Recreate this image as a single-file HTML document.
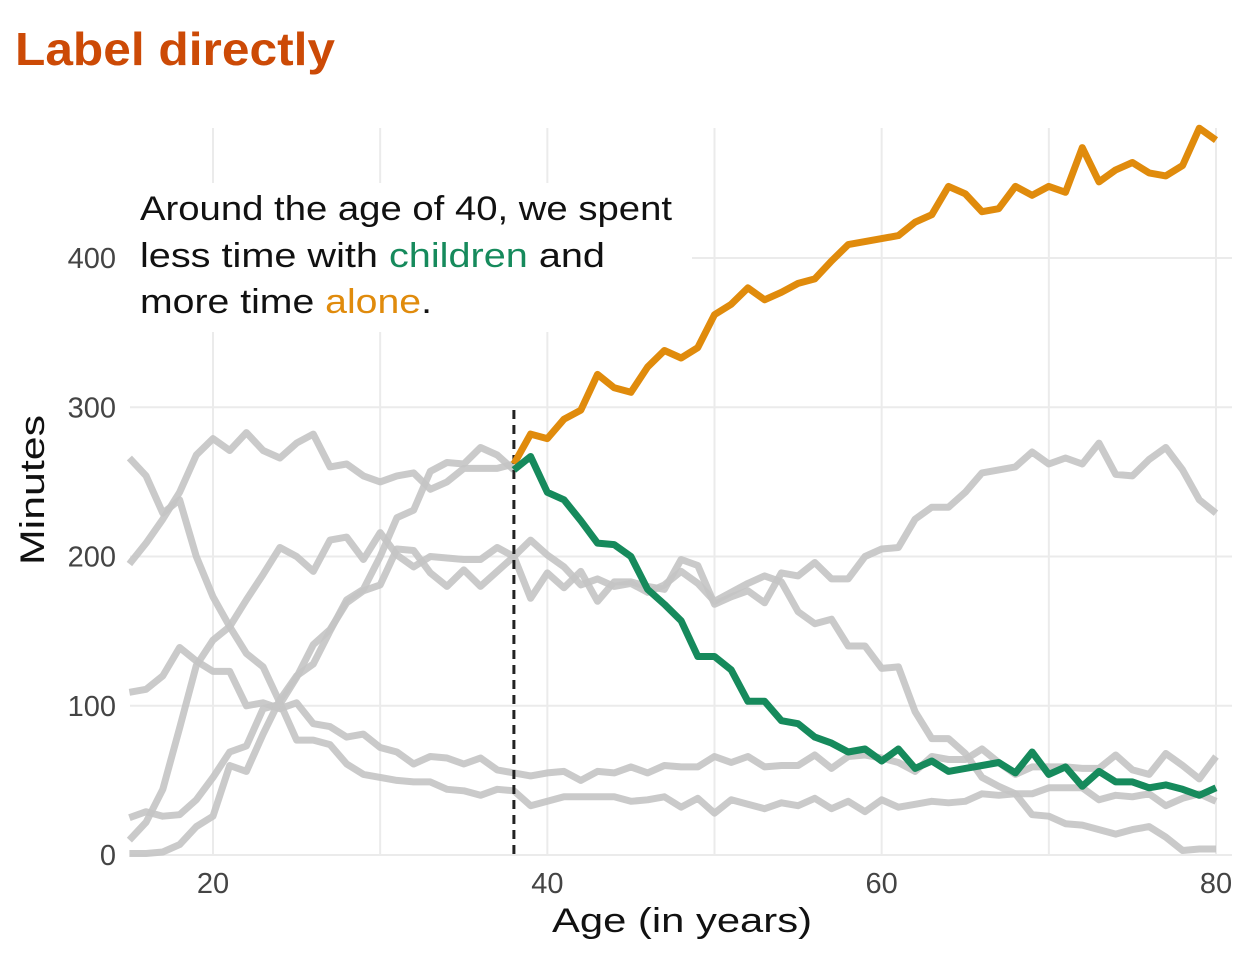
<!DOCTYPE html>
<html><head><meta charset="utf-8"><style>
html,body{margin:0;padding:0;background:#fff;}
svg{display:block;font-family:"Liberation Sans",sans-serif;}
</style></head><body>
<svg id="chart" width="1248" height="960" viewBox="0 0 1248 960">
<text x="15" y="65" font-size="46" font-weight="bold" fill="#cc4a06" textLength="320" lengthAdjust="spacingAndGlyphs">Label directly</text>
<g id="grid"></g>
<g id="yaxis"></g>
<g id="xaxis"></g>
<rect x="130" y="183" width="562" height="149" fill="#fff"/>
<g id="lines"></g>
<g font-size="34" fill="#111">
<text x="140" y="220" textLength="532" lengthAdjust="spacingAndGlyphs">Around the age of 40, we spent</text>
<text x="140" y="267" textLength="465" lengthAdjust="spacingAndGlyphs">less time with <tspan fill="#168a5c">children</tspan> and</text>
<text x="140" y="313" textLength="292" lengthAdjust="spacingAndGlyphs">more time <tspan fill="#e08b0c">alone</tspan>.</text>
</g>
<text x="682" y="932" font-size="34" text-anchor="middle" fill="#111" textLength="260" lengthAdjust="spacingAndGlyphs">Age (in years)</text>
<text transform="translate(44,490) rotate(-90)" font-size="34" text-anchor="middle" fill="#111" textLength="150" lengthAdjust="spacingAndGlyphs">Minutes</text>
</svg>
<script>
const xTicks = [20, 40, 60, 80];
const xMinor = [30, 50, 70];
const yTicks = [0, 100, 200, 300, 400];
const startAge = 15;
const highlightAge = 38;
const alone = [195,209,225,243,268,279,271,283,271,266,276,282,260,262,254,250,254,256,245,250,259,259,259,
 262,282,279,292,298,322,313,310,327,338,333,340,362,369,380,372,377,383,386,398,409,411,413,415,424,429,448,443,431,433,448,442,448,444,474,451,459,464,457,455,462,487,479];
const children = [1,1,2,7,19,26,60,56,81,104,120,128,150,171,178,200,226,231,257,263,262,273,268,
 258,267,243,238,224,209,208,200,178,168,157,133,133,124,103,103,90,88,79,75,69,71,63,71,58,63,56,58,60,62,55,69,54,59,46,56,49,49,45,47,44,40,45];
const grayL = [266,254,229,238,200,173,153,135,126,102,77,77,74,61,54,52,50,49,49,44,43,40,44,
 43,33,36,39,39,39,39,36,37,39,32,38,28,37,34,31,35,33,38,31,36,29,37,32,34,36,35,36,41,40,41,41,45,45,45,37,40,39,41,33,38,41,36];
const grayU = [109,111,120,139,130,123,123,100,102,98,102,88,86,79,81,72,69,61,66,65,61,65,57,
 55,53,55,56,50,56,55,59,55,60,59,59,66,62,66,59,60,60,67,58,66,67,65,62,56,66,64,64,71,62,54,59,59,59,58,58,67,57,54,68,60,51,66];
const grayM1 = [25,29,26,27,37,52,69,73,98,101,119,141,151,169,177,181,205,204,189,180,191,180,190,
 200,172,189,179,190,170,183,183,180,178,198,194,168,173,177,169,189,187,196,185,185,200,205,206,225,233,233,243,256,258,260,270,262,266,262,276,255,254,265,273,258,238,229];
const grayM2 = [10,22,44,85,127,144,153,171,188,206,200,190,211,213,198,216,201,193,200,199,198,198,206,
 200,211,201,193,181,185,180,182,176,181,190,182,170,176,182,187,183,163,155,158,140,140,125,126,96,78,78,68,52,46,41,27,26,21,20,17,14,17,19,12,3,4,4];

const NS = "http://www.w3.org/2000/svg";
const X = a => 213 + (a - 20) * (1216 - 213) / 60;
const Y = v => 855 - v * (855 - 258) / 400;
function mk(tag, attrs, parent){ const e=document.createElementNS(NS,tag); for(const k in attrs) e.setAttribute(k,attrs[k]); parent.appendChild(e); return e; }
const grid=document.getElementById('grid'), yaxis=document.getElementById('yaxis'), xaxis=document.getElementById('xaxis'), lines=document.getElementById('lines');
xMinor.concat(xTicks).forEach(a=>{
  const l=mk('line',{x1:X(a),x2:X(a),y1:128,y2:855,stroke:'#ebebeb','stroke-width':2},grid);
  
  
});
yTicks.forEach(v=>{
  const x1 = v===400 ? 692 : 130;
  const l=mk('line',{x1:x1,x2:1232,y1:Y(v),y2:Y(v),stroke:'#ebebeb','stroke-width':2},grid);
  
  
  const t=mk('text',{x:116,y:Y(v)+10,'font-size':29,'text-anchor':'end',fill:'#444'},yaxis);
  t.textContent=v;
  
  
});
xTicks.forEach(a=>{
  const t=mk('text',{x:X(a),y:893,'font-size':29,'text-anchor':'middle',fill:'#444'},xaxis);
  t.textContent=a;
  
  
});
function path(arr, from, to){
  let d='';
  for(let i=0;i<arr.length;i++){ const a=startAge+i; if(a<from||a>to) continue; d+=(d?'L':'M')+X(a).toFixed(1)+','+Y(arr[i]).toFixed(1); }
  return d;
}
[grayL,grayU,grayM1,grayM2].forEach(s=>{
  const p=mk('path',{d:path(s,15,80),fill:'none',stroke:'#c4c4c4','stroke-opacity':0.9,'stroke-width':7,'stroke-linejoin':'round'},lines);
  
  
});
[alone,children].forEach(s=>{
  const p=mk('path',{d:path(s,15,highlightAge),fill:'none',stroke:'#c4c4c4','stroke-opacity':0.9,'stroke-width':7,'stroke-linejoin':'round'},lines);
  
  
});
const dl=mk('line',{x1:X(highlightAge),x2:X(highlightAge),y1:410,y2:855,stroke:'#222','stroke-width':3,'stroke-dasharray':'9,6'},lines);


const pa=mk('path',{d:path(alone,highlightAge,80),fill:'none',stroke:'#e08b0c','stroke-width':7,'stroke-linejoin':'round'},lines);


const pc=mk('path',{d:path(children,highlightAge,80),fill:'none',stroke:'#168a5c','stroke-width':7,'stroke-linejoin':'round'},lines);


</script>
</body></html>
